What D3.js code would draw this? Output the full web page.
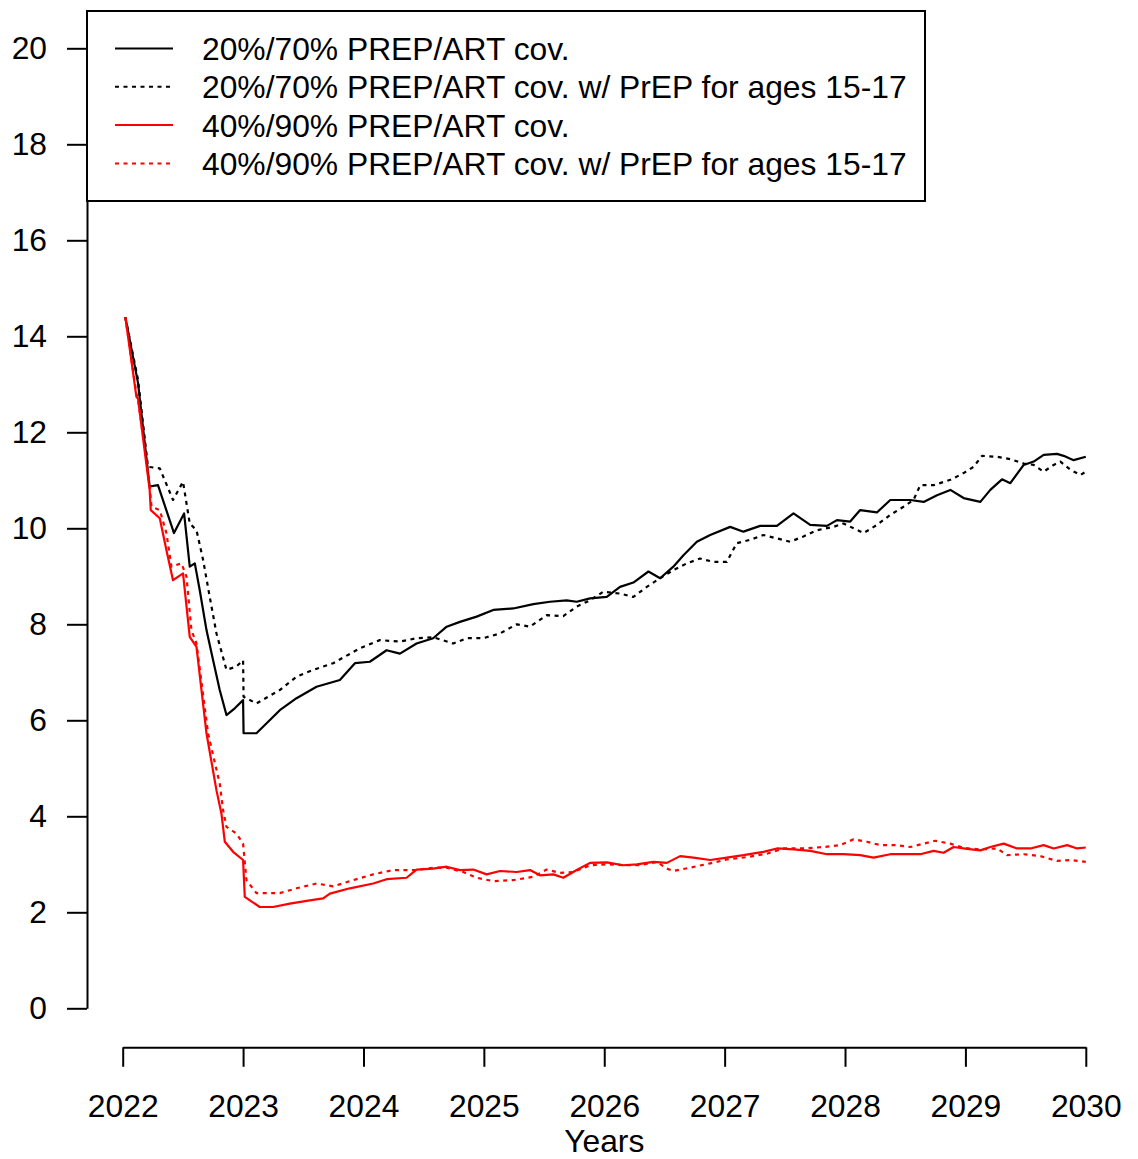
<!DOCTYPE html>
<html>
<head>
<meta charset="utf-8">
<script src="https://cdn.jsdelivr.net/npm/d3@7"></script>
<style>
  body { margin: 0; background: #fff; }
  svg { display: block; font-family: "Liberation Sans", Arial, Helvetica, sans-serif; }
</style>
</head>
<body>
<div id="chart"></div>
<script>
// series (year, value)
const blackSolidYears = [2022.022, 2022.127, 2022.224, 2022.293, 2022.426, 2022.51, 2022.557, 2022.599, 2022.64, 2022.696, 2022.751, 2022.806, 2022.862, 2022.931, 2023.0, 2023.004, 2023.111, 2023.305, 2023.444, 2023.61, 2023.804, 2023.929, 2024.053, 2024.192, 2024.303, 2024.441, 2024.579, 2024.691, 2024.801, 2024.94, 2025.078, 2025.244, 2025.411, 2025.549, 2025.688, 2025.771, 2025.882, 2026.021, 2026.131, 2026.242, 2026.367, 2026.464, 2026.574, 2026.658, 2026.769, 2026.88, 2027.046, 2027.156, 2027.295, 2027.434, 2027.572, 2027.711, 2027.85, 2027.933, 2028.043, 2028.126, 2028.265, 2028.376, 2028.542, 2028.653, 2028.764, 2028.875, 2028.985, 2029.124, 2029.207, 2029.304, 2029.373, 2029.484, 2029.567, 2029.65, 2029.761, 2029.816, 2029.899, 2030.0];
const blackSolidValues = [14.4, 13.03, 10.87, 10.9, 9.9, 10.31, 9.2, 9.27, 8.71, 7.88, 7.25, 6.63, 6.11, 6.25, 6.42, 5.73, 5.73, 6.21, 6.46, 6.7, 6.84, 7.19, 7.22, 7.46, 7.39, 7.6, 7.71, 7.95, 8.05, 8.16, 8.3, 8.33, 8.42, 8.47, 8.5, 8.47, 8.54, 8.57, 8.78, 8.87, 9.1, 8.96, 9.2, 9.44, 9.72, 9.86, 10.03, 9.93, 10.05, 10.05, 10.31, 10.07, 10.05, 10.17, 10.14, 10.38, 10.33, 10.59, 10.59, 10.55, 10.69, 10.8, 10.63, 10.55, 10.8, 11.02, 10.94, 11.32, 11.39, 11.53, 11.55, 11.51, 11.42, 11.49];

const blackDotYears = [2022.022, 2022.127, 2022.21, 2022.308, 2022.418, 2022.501, 2022.557, 2022.613, 2022.668, 2022.723, 2022.779, 2022.862, 2022.945, 2023.0, 2023.004, 2023.111, 2023.305, 2023.444, 2023.582, 2023.748, 2023.97, 2024.136, 2024.303, 2024.441, 2024.579, 2024.746, 2024.857, 2024.995, 2025.134, 2025.273, 2025.383, 2025.522, 2025.66, 2025.771, 2025.882, 2025.993, 2026.131, 2026.242, 2026.353, 2026.464, 2026.574, 2026.686, 2026.796, 2026.907, 2027.018, 2027.101, 2027.212, 2027.322, 2027.434, 2027.544, 2027.655, 2027.766, 2027.904, 2027.988, 2028.071, 2028.154, 2028.265, 2028.376, 2028.486, 2028.569, 2028.625, 2028.736, 2028.875, 2028.985, 2029.068, 2029.138, 2029.263, 2029.373, 2029.484, 2029.567, 2029.65, 2029.733, 2029.789, 2029.872, 2029.955, 2030.0];
const blackDotValues = [14.4, 13.1, 11.28, 11.25, 10.59, 10.97, 10.1, 9.96, 9.34, 8.57, 7.81, 7.05, 7.12, 7.25, 6.49, 6.35, 6.63, 6.91, 7.05, 7.19, 7.5, 7.67, 7.64, 7.71, 7.73, 7.6, 7.71, 7.71, 7.81, 8.0, 7.95, 8.19, 8.17, 8.37, 8.5, 8.68, 8.64, 8.57, 8.78, 8.96, 9.13, 9.27, 9.37, 9.3, 9.3, 9.69, 9.76, 9.86, 9.79, 9.72, 9.83, 9.96, 10.03, 10.1, 10.0, 9.9, 10.07, 10.28, 10.45, 10.59, 10.9, 10.9, 11.01, 11.15, 11.28, 11.51, 11.49, 11.44, 11.35, 11.32, 11.18, 11.32, 11.39, 11.22, 11.11, 11.18];

const redSolidYears = [2022.022, 2022.114, 2022.127, 2022.224, 2022.233, 2022.308, 2022.363, 2022.418, 2022.501, 2022.557, 2022.613, 2022.696, 2022.779, 2022.82, 2022.848, 2022.917, 2023.0, 2023.014, 2023.139, 2023.249, 2023.388, 2023.554, 2023.665, 2023.721, 2023.887, 2024.081, 2024.192, 2024.358, 2024.441, 2024.579, 2024.691, 2024.801, 2024.912, 2025.023, 2025.134, 2025.273, 2025.383, 2025.466, 2025.577, 2025.66, 2025.771, 2025.882, 2026.021, 2026.159, 2026.27, 2026.408, 2026.52, 2026.63, 2026.741, 2026.88, 2027.018, 2027.156, 2027.322, 2027.434, 2027.572, 2027.711, 2027.85, 2027.988, 2028.126, 2028.237, 2028.376, 2028.514, 2028.625, 2028.736, 2028.819, 2028.902, 2029.013, 2029.124, 2029.207, 2029.318, 2029.429, 2029.54, 2029.65, 2029.733, 2029.845, 2029.928, 2030.0];
const redSolidValues = [14.4, 12.74, 12.7, 10.8, 10.38, 10.21, 9.55, 8.92, 9.06, 7.74, 7.53, 5.73, 4.54, 4.06, 3.47, 3.26, 3.09, 2.32, 2.11, 2.11, 2.18, 2.25, 2.29, 2.39, 2.5, 2.6, 2.69, 2.72, 2.89, 2.91, 2.95, 2.88, 2.89, 2.79, 2.86, 2.84, 2.88, 2.77, 2.79, 2.72, 2.88, 3.03, 3.04, 2.98, 3.0, 3.05, 3.03, 3.17, 3.14, 3.09, 3.14, 3.19, 3.26, 3.33, 3.31, 3.28, 3.21, 3.21, 3.19, 3.14, 3.21, 3.21, 3.21, 3.28, 3.24, 3.36, 3.32, 3.29, 3.36, 3.43, 3.33, 3.33, 3.4, 3.33, 3.4, 3.33, 3.35];

const redDotYears = [2022.022, 2022.114, 2022.127, 2022.224, 2022.239, 2022.308, 2022.363, 2022.405, 2022.488, 2022.53, 2022.571, 2022.613, 2022.709, 2022.806, 2022.834, 2022.862, 2022.945, 2023.0, 2023.028, 2023.111, 2023.305, 2023.444, 2023.61, 2023.748, 2023.914, 2024.081, 2024.247, 2024.441, 2024.579, 2024.691, 2024.829, 2024.94, 2025.078, 2025.244, 2025.411, 2025.522, 2025.633, 2025.743, 2025.882, 2026.021, 2026.159, 2026.298, 2026.436, 2026.52, 2026.574, 2026.713, 2026.88, 2027.018, 2027.185, 2027.351, 2027.489, 2027.655, 2027.821, 2027.96, 2028.071, 2028.182, 2028.293, 2028.431, 2028.542, 2028.653, 2028.75, 2028.875, 2028.985, 2029.124, 2029.263, 2029.346, 2029.484, 2029.622, 2029.761, 2029.872, 2030.0];
const redDotValues = [14.4, 12.8, 12.7, 10.9, 10.45, 10.38, 9.9, 9.2, 9.27, 8.99, 7.88, 7.6, 5.73, 4.68, 4.13, 3.78, 3.64, 3.43, 2.67, 2.4, 2.4, 2.5, 2.6, 2.54, 2.67, 2.79, 2.88, 2.88, 2.93, 2.93, 2.84, 2.72, 2.65, 2.67, 2.74, 2.89, 2.82, 2.84, 2.98, 3.0, 2.98, 2.98, 3.05, 2.91, 2.86, 2.93, 3.02, 3.1, 3.15, 3.22, 3.33, 3.33, 3.36, 3.4, 3.52, 3.47, 3.4, 3.4, 3.36, 3.43, 3.49, 3.43, 3.34, 3.31, 3.33, 3.19, 3.21, 3.17, 3.07, 3.09, 3.05];

const yearTicks = [2022, 2023, 2024, 2025, 2026, 2027, 2028, 2029, 2030];
const valueTicks = [0, 2, 4, 6, 8, 10, 12, 14, 16, 18, 20];

const legendLabels = [
  '20%/70% PREP/ART cov.',
  '20%/70% PREP/ART cov. w/ PrEP for ages 15-17',
  '40%/90% PREP/ART cov.',
  '40%/90% PREP/ART cov. w/ PrEP for ages 15-17',
];

const width = 1138;
const height = 1159;
const fontSize = 31.8;
const dotDash = '4,4.5';

const series = [
  { years: blackSolidYears, values: blackSolidValues, color: '#000', dash: null },
  { years: blackDotYears, values: blackDotValues, color: '#000', dash: dotDash },
  { years: redSolidYears, values: redSolidValues, color: '#ff0000', dash: null },
  { years: redDotYears, values: redDotValues, color: '#ff0000', dash: dotDash },
];

const svg = d3.select('#chart')
  .append('svg')
  .attr('width', width)
  .attr('height', height);

svg.append('rect').attr('width', width).attr('height', height).attr('fill', '#fff');

const x = d3.scaleLinear().domain([2022, 2030]).range([122.7, 1085.8]);
const y = d3.scaleLinear().domain([0, 20]).range([1008.3, 48.3]);

// y axis (R style: line spans first to last tick)
const yAxis = svg.append('g')
  .attr('transform', 'translate(87,0)')
  .call(d3.axisLeft(y).tickValues(valueTicks).tickSize(20).tickSizeOuter(0).tickPadding(20));

// x axis, drawn below the plot area
const xAxis = svg.append('g')
  .attr('transform', 'translate(0,1047.3)')
  .call(d3.axisBottom(x).tickValues(yearTicks).tickFormat(d3.format('d')).tickSize(19.5).tickSizeOuter(0));

[yAxis, xAxis].forEach((g) => {
  g.select('.domain').attr('stroke', '#000').attr('stroke-width', 2);
  g.selectAll('.tick line').attr('stroke', '#000').attr('stroke-width', 2);
  g.selectAll('.tick text')
    .attr('fill', '#000')
    .style('font-size', fontSize + 'px')
    .style('font-family', '"Liberation Sans", Arial, Helvetica, sans-serif');
});

xAxis.selectAll('.tick text').attr('dy', null).attr('y', 70);

svg.append('text')
  .attr('x', x(2026))
  .attr('y', 1152)
  .attr('text-anchor', 'middle')
  .style('font-size', fontSize + 'px')
  .text('Years');

// lines
const line = d3.line()
  .x((d) => x(d[0]))
  .y((d) => y(d[1]));

series.forEach((s) => {
  const pts = s.years.map((yr, i) => [yr, s.values[i]]);
  svg.append('path')
    .datum(pts)
    .attr('d', line)
    .attr('fill', 'none')
    .attr('stroke', s.color)
    .attr('stroke-width', 2.2)
    .attr('stroke-linejoin', 'round')
    .attr('stroke-dasharray', s.dash);
});

// legend
const legend = svg.append('g');
legend.append('rect')
  .attr('x', 87)
  .attr('y', 11)
  .attr('width', 925 - 87)
  .attr('height', 201 - 11)
  .attr('fill', '#fff')
  .attr('stroke', '#000')
  .attr('stroke-width', 2);

legendLabels.forEach((label, i) => {
  const cy = 48.5 + i * 38.3;
  legend.append('line')
    .attr('x1', 115)
    .attr('x2', 173)
    .attr('y1', cy)
    .attr('y2', cy)
    .attr('stroke', series[i].color)
    .attr('stroke-width', 2)
    .attr('stroke-dasharray', series[i].dash);
  legend.append('text')
    .attr('x', 202)
    .attr('y', cy)
    .attr('dy', '0.36em')
    .style('font-size', fontSize + 'px')
    .text(label);
});
</script>
</body>
</html>
